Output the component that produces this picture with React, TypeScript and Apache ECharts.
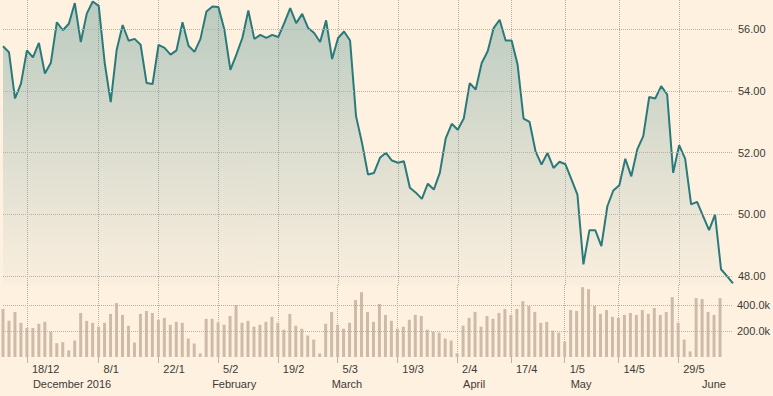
import React, { useEffect, useRef } from "react";
import * as echarts from "echarts";

// Trading days (category axis)
const dates = [
  "2016-12-13","2016-12-14","2016-12-15","2016-12-16","2016-12-19","2016-12-20","2016-12-21","2016-12-22","2016-12-23","2016-12-28",
  "2016-12-29","2016-12-30","2017-01-03","2017-01-04","2017-01-05","2017-01-06","2017-01-09","2017-01-10","2017-01-11","2017-01-12",
  "2017-01-13","2017-01-16","2017-01-17","2017-01-18","2017-01-19","2017-01-20","2017-01-23","2017-01-24","2017-01-25","2017-01-26",
  "2017-01-27","2017-01-30","2017-01-31","2017-02-01","2017-02-02","2017-02-03","2017-02-06","2017-02-07","2017-02-08","2017-02-09",
  "2017-02-10","2017-02-13","2017-02-14","2017-02-15","2017-02-16","2017-02-17","2017-02-20","2017-02-21","2017-02-22","2017-02-23",
  "2017-02-24","2017-02-27","2017-02-28","2017-03-01","2017-03-02","2017-03-03","2017-03-06","2017-03-07","2017-03-08","2017-03-09",
  "2017-03-10","2017-03-13","2017-03-14","2017-03-15","2017-03-16","2017-03-17","2017-03-20","2017-03-21","2017-03-22","2017-03-23",
  "2017-03-24","2017-03-27","2017-03-28","2017-03-29","2017-03-30","2017-03-31","2017-04-03","2017-04-04","2017-04-05","2017-04-06",
  "2017-04-07","2017-04-10","2017-04-11","2017-04-12","2017-04-13","2017-04-18","2017-04-19","2017-04-20","2017-04-21","2017-04-24",
  "2017-04-25","2017-04-26","2017-04-27","2017-04-28","2017-05-02","2017-05-03","2017-05-04","2017-05-05","2017-05-08","2017-05-09",
  "2017-05-10","2017-05-11","2017-05-12","2017-05-15","2017-05-16","2017-05-17","2017-05-18","2017-05-19","2017-05-22","2017-05-23",
  "2017-05-24","2017-05-25","2017-05-26","2017-05-30","2017-05-31","2017-06-01","2017-06-02","2017-06-05","2017-06-06","2017-06-07",
  "2017-06-08","2017-06-09","2017-06-12"
];

const prices = [
  55.44, 55.25, 53.75, 54.23, 55.31, 55.08, 55.55, 54.56, 54.91, 56.22,
  55.96, 56.17, 56.84, 55.58, 56.50, 56.89, 56.75, 54.90, 53.63, 55.33,
  56.13, 55.62, 55.68, 55.49, 54.25, 54.22, 55.49, 55.39, 55.17, 55.31,
  56.22, 55.46, 55.26, 55.68, 56.57, 56.73, 56.71, 55.98, 54.68, 55.17,
  55.71, 56.60, 55.68, 55.81, 55.71, 55.81, 55.74, 56.19, 56.68, 56.19,
  56.49, 56.03, 55.87, 55.58, 56.28, 55.03, 55.71, 55.92, 55.63, 53.18,
  52.31, 51.29, 51.34, 51.83, 51.99, 51.74, 51.67, 51.72, 50.86, 50.70,
  50.50, 50.99, 50.80, 51.34, 52.47, 52.93, 52.74, 53.10, 54.25, 54.04,
  54.90, 55.28, 56.03, 56.30, 55.63, 55.63, 54.85, 53.10, 52.99, 52.04,
  51.61, 51.99, 51.50, 51.70, 51.62, 51.13, 50.64, 48.38, 49.48, 49.48,
  48.97, 50.26, 50.77, 50.94, 51.80, 51.23, 52.10, 52.53, 53.80, 53.75,
  54.15, 53.88, 51.34, 52.24, 51.80, 50.32, 50.40, 49.94, 49.49, 49.99,
  48.22, 48.00, 47.76
];

// Volume in thousands (null = no bar)
const volumesK = [
  370, 278, 347, 263, 223, 223, 256, 271, 195, 106,
  114, 51, 127, 339, 278, 263, 233, 263, 332, 415,
  324, 241, 111, 332, 354, 339, 286, 301, 248, 271,
  263, 142, 104, 28, 294, 294, 266, 248, 316, 400,
  263, 278, 233, 248, 271, 309, 263, 210, 332, 241,
  218, 165, 134, 28, 256, 347, 248, 218, 263, 438,
  499, 347, 271, 408, 324, 278, 218, 233, 286, 324,
  316, 210, 195, 187, 142, 127, 28, 241, 301, 347,
  233, 316, 294, 339, 370, 324, 370, 430, 392, 347,
  263, 271, 203, 187, 119, 362, 354, 537, 522, 392,
  332, 362, 309, 301, 324, 339, 324, 362, 332, 377,
  324, 347, 461, 263, 134, 43, 453, 446, 347, 324,
  453, null, null
];

const tickDates = ["2016-12-19","2017-01-09","2017-01-23","2017-02-06","2017-02-20","2017-03-06","2017-03-20","2017-04-03","2017-04-18","2017-05-02","2017-05-15","2017-05-30"];
const tickLabels = ["18/12","8/1","22/1","5/2","19/2","5/3","19/3","2/4","17/4","1/5","14/5","29/5"];
const monthDates = ["2016-12-20","2017-02-03","2017-03-03","2017-04-04","2017-05-03","2017-06-05"];
const monthLabels = ["December 2016","February","March","April","May","June"];
const priceGridValues = [48, 50, 52, 54, 56];
const volumeGridValues = [200000, 400000];

const FONT = "'Liberation Sans', Arial, sans-serif";
const TEXT = "#3d3a36";
const GRIDC = "#bab1a5";
const LINE = "#2a7a7c";
const BAR = "#cdbba7";

export default function App() {
  const ref = useRef<HTMLDivElement>(null);
  useEffect(() => {
    if (!ref.current) return;
    const chart = echarts.init(ref.current, undefined, { renderer: "svg" });
    const tickMap: Record<string, string> = {};
    tickDates.forEach((d, i) => (tickMap[d] = tickLabels[i]));
    const monthMap: Record<string, string> = {};
    monthDates.forEach((d, i) => (monthMap[d] = monthLabels[i]));
    const isTick = (_i: number, v: string) => tickMap[v] !== undefined;
    const isMonth = (_i: number, v: string) => monthMap[v] !== undefined;
    const dotted = () => ({ color: GRIDC, width: 1, type: "dotted" });
    const gridMarks = (vals: number[]) => ({
      silent: true,
      symbol: "none",
      label: { show: false },
      lineStyle: dotted(),
      emphasis: { disabled: true },
      data: vals.map((v) => ({ yAxis: v })),
    });

    chart.setOption({
      animation: false,
      backgroundColor: "#fff1e0",
      grid: [
        { left: 3, right: 40, top: 0, height: 285 },
        { left: 3, right: 40, top: 285, height: 72 },
      ],
      xAxis: [
        {
          type: "category", gridIndex: 0, data: dates, boundaryGap: false,
          axisLine: { show: false }, axisTick: { show: false }, axisLabel: { show: false },
          splitLine: { show: true, interval: isTick, lineStyle: dotted() },
        },
        {
          type: "category", gridIndex: 1, data: dates, boundaryGap: false,
          axisLine: { show: false },
          axisTick: { show: true, interval: isTick, length: 6, lineStyle: { color: GRIDC, width: 1 } },
          axisLabel: {
            interval: isTick, formatter: (v: string) => tickMap[v] || "",
            align: "left", padding: [0, 0, 0, 5], margin: 6,
            color: TEXT, fontSize: 11, fontFamily: FONT,
          },
          splitLine: { show: true, interval: isTick, lineStyle: dotted() },
        },
        {
          type: "category", gridIndex: 1, data: dates, boundaryGap: false, position: "bottom",
          axisLine: { show: false }, axisTick: { show: false },
          axisLabel: {
            interval: isMonth, formatter: (v: string) => monthMap[v] || "",
            align: "left", margin: 21, color: TEXT, fontSize: 11, fontFamily: FONT,
          },
          splitLine: { show: false },
        },
      ],
      yAxis: [
        {
          type: "value", gridIndex: 0, position: "right", min: 47.71, max: 56.94, splitNumber: 5,
          axisLine: { show: false }, axisTick: { show: false },
          axisLabel: {
            showMinLabel: false, showMaxLabel: false, formatter: (v: number) => v.toFixed(2),
            margin: 5, color: TEXT, fontSize: 11, fontFamily: FONT,
          },
          splitLine: { show: false },
        },
        {
          type: "value", gridIndex: 1, position: "right", min: 0, max: 554000, interval: 200000,
          axisLine: { show: false }, axisTick: { show: false },
          axisLabel: {
            showMinLabel: false, showMaxLabel: false,
            formatter: (v: number) => (v / 1000).toFixed(1) + "k",
            margin: 5, color: TEXT, fontSize: 11, fontFamily: FONT,
          },
          splitLine: { show: false },
        },
      ],
      series: [
        {
          // carrier of the price grid lines (kept behind the price line)
          type: "line", xAxisIndex: 0, yAxisIndex: 0, data: prices, symbol: "none", z: 1,
          lineStyle: { opacity: 0 }, silent: true,
          markLine: gridMarks(priceGridValues),
        },
        {
          type: "line", xAxisIndex: 0, yAxisIndex: 0, data: prices, symbol: "none", z: 3,
          lineStyle: { color: LINE, width: 2 },
          areaStyle: {
            origin: "start",
            color: {
              type: "linear", x: 0, y: 0, x2: 0, y2: 285, global: true,
              colorStops: [
                { offset: 0, color: "rgba(42,122,124,0.46)" },
                { offset: 1, color: "rgba(42,122,124,0.03)" },
              ],
            },
          },
        },
        {
          // carrier of the volume grid lines
          type: "line", xAxisIndex: 1, yAxisIndex: 1,
          data: volumesK.map((v) => (v == null ? "-" : v * 1000)),
          symbol: "none", z: 1, lineStyle: { opacity: 0 }, silent: true,
          markLine: gridMarks(volumeGridValues),
        },
        {
          type: "bar", xAxisIndex: 1, yAxisIndex: 1, z: 3,
          data: volumesK.map((v) => (v == null ? "-" : v * 1000)),
          barWidth: 3, itemStyle: { color: BAR },
        },
      ],
    });
    return () => chart.dispose();
  }, []);
  return (
    <div
      ref={ref}
      style={{ position: "fixed", left: 0, top: 0, width: 773, height: 396 }}
    />
  );
}
